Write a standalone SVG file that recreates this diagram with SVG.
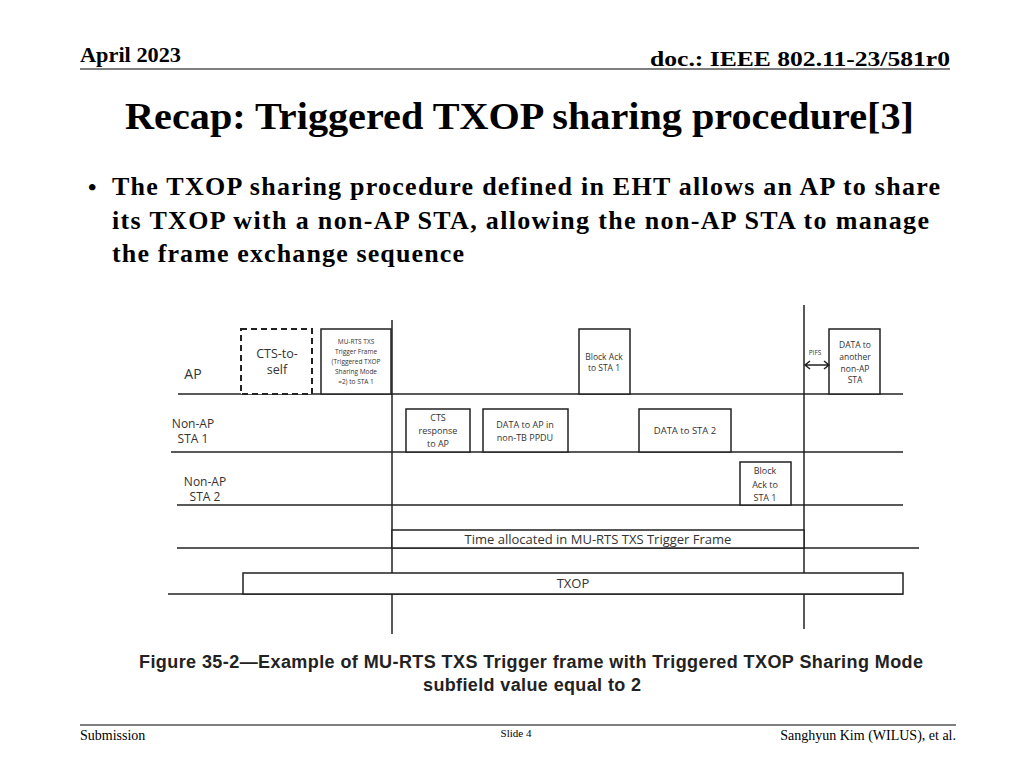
<svg xmlns="http://www.w3.org/2000/svg" width="1024" height="768" viewBox="0 0 1024 768">
<style>
.t{font-family:"Liberation Serif",serif;font-weight:bold;fill:#000}
.c{font-family:"Open Sans","Liberation Sans",sans-serif;fill:#333;text-anchor:middle}
.b{fill:#fff;stroke:#222;stroke-width:1.5}
.l{stroke:#222;stroke-width:1.5;fill:none}
</style>
<rect width="1024" height="768" fill="#fff"/>
<g id="header">
<text class="t" x="80" y="62" font-size="20" textLength="101" lengthAdjust="spacingAndGlyphs">April 2023</text>
<text class="t" x="650" y="66" font-size="21" textLength="300" lengthAdjust="spacingAndGlyphs">doc.: IEEE 802.11-23/581r0</text>
<line x1="80" y1="69" x2="950" y2="69" stroke="#000" stroke-width="1"/>
<text class="t" x="125" y="129" font-size="37" textLength="789" lengthAdjust="spacingAndGlyphs">Recap: Triggered TXOP sharing procedure[3]</text>
<text class="t" x="88" y="195" font-size="24">•</text>
<text class="t" font-size="26" lengthAdjust="spacingAndGlyphs"><tspan x="112" y="195" textLength="828">The TXOP sharing procedure defined in EHT allows an AP to share</tspan><tspan x="112" y="229" textLength="817">its TXOP with a non-AP STA, allowing the non-AP STA to manage</tspan><tspan x="112" y="262" textLength="352">the frame exchange sequence</tspan></text>
</g>
<g id="timelines">
<line class="l" x1="178" y1="394" x2="903" y2="394"/>
<line class="l" x1="171" y1="452" x2="903" y2="452"/>
<line class="l" x1="177" y1="505" x2="903" y2="505"/>
<line class="l" x1="177" y1="548" x2="919" y2="548"/>
<line class="l" x1="168" y1="594" x2="903" y2="594"/>
<line class="l" x1="392" y1="320" x2="392" y2="634"/>
<line class="l" x1="804" y1="305" x2="804" y2="629"/>
<text class="c" x="193" y="379" font-size="14">AP</text>
<text class="c" font-size="12"><tspan x="193" y="428">Non-AP</tspan><tspan x="193" y="443">STA 1</tspan></text>
<text class="c" font-size="12"><tspan x="205" y="486">Non-AP</tspan><tspan x="205" y="501">STA 2</tspan></text>
</g>
<g id="n1"><rect x="241" y="329" width="71" height="65" fill="#fff" stroke="#222" stroke-width="2" stroke-dasharray="6,4"/><text class="c" font-size="12.5"><tspan x="277" y="358">CTS-to-</tspan><tspan x="277" y="374">self</tspan></text></g>
<g id="n2"><rect class="b" x="321" y="329" width="70" height="65"/><text class="c" font-size="6.5"><tspan x="356" y="344">MU-RTS TXS</tspan><tspan x="356" y="354">Trigger Frame</tspan><tspan x="356" y="364">(Triggered TXOP</tspan><tspan x="356" y="374">Sharing Mode</tspan><tspan x="356" y="384">=2) to STA 1</tspan></text></g>
<g id="n3"><rect class="b" x="406" y="409" width="64" height="43"/><text class="c" font-size="9"><tspan x="438" y="421">CTS</tspan><tspan x="438" y="434">response</tspan><tspan x="438" y="447">to AP</tspan></text></g>
<g id="n4"><rect class="b" x="483" y="409" width="85" height="43"/><text class="c" font-size="9"><tspan x="525" y="428">DATA to AP in</tspan><tspan x="525" y="441">non-TB PPDU</tspan></text></g>
<g id="n5"><rect class="b" x="579" y="329" width="51" height="65"/><text class="c" font-size="8.5"><tspan x="604" y="360">Block Ack</tspan><tspan x="604" y="371">to STA 1</tspan></text></g>
<g id="n6"><rect class="b" x="639" y="409" width="92" height="43"/><text class="c" font-size="9.5" x="685" y="434">DATA to STA 2</text></g>
<g id="n7"><rect class="b" x="740" y="462" width="51" height="43"/><text class="c" font-size="9"><tspan x="765" y="474">Block</tspan><tspan x="765" y="488">Ack to</tspan><tspan x="765" y="501">STA 1</tspan></text></g>
<g id="n8"><rect class="b" x="829" y="329" width="51" height="65"/><text class="c" font-size="8.5"><tspan x="855" y="348">DATA to</tspan><tspan x="855" y="360">another</tspan><tspan x="855" y="372">non-AP</tspan><tspan x="855" y="383">STA</tspan></text></g>
<g id="n9"><rect class="b" x="392" y="530" width="412" height="18"/><text class="c" font-size="13" x="598" y="544">Time allocated in MU-RTS TXS Trigger Frame</text></g>
<g id="n10"><rect class="b" x="243" y="573" width="660" height="21"/><text class="c" font-size="13" x="573" y="588">TXOP</text></g>
<g id="connectors">
<text class="c" font-size="6.5" x="815" y="355">PIFS</text>
<path class="l" d="M805 365 H829 M810 361 L805 365 L810 369 M824 361 L829 365 L824 369" stroke-width="1"/>
</g>
<g id="footer">
<text font-family="Liberation Sans,sans-serif" font-weight="bold" font-size="18" fill="#222" lengthAdjust="spacingAndGlyphs"><tspan x="139" y="668" textLength="784">Figure 35-2—Example of MU-RTS TXS Trigger frame with Triggered TXOP Sharing Mode</tspan><tspan x="423" y="691" textLength="218">subfield value equal to 2</tspan></text>
<line x1="80" y1="725" x2="956" y2="725" stroke="#000" stroke-width="1"/>
<text font-family="Liberation Serif,serif" font-size="14" x="80" y="740">Submission</text>
<text font-family="Liberation Serif,serif" font-size="11" x="516" y="737" text-anchor="middle">Slide 4</text>
<text font-family="Liberation Serif,serif" font-size="14" x="956" y="740" text-anchor="end">Sanghyun Kim (WILUS), et al.</text>
</g>
</svg>
